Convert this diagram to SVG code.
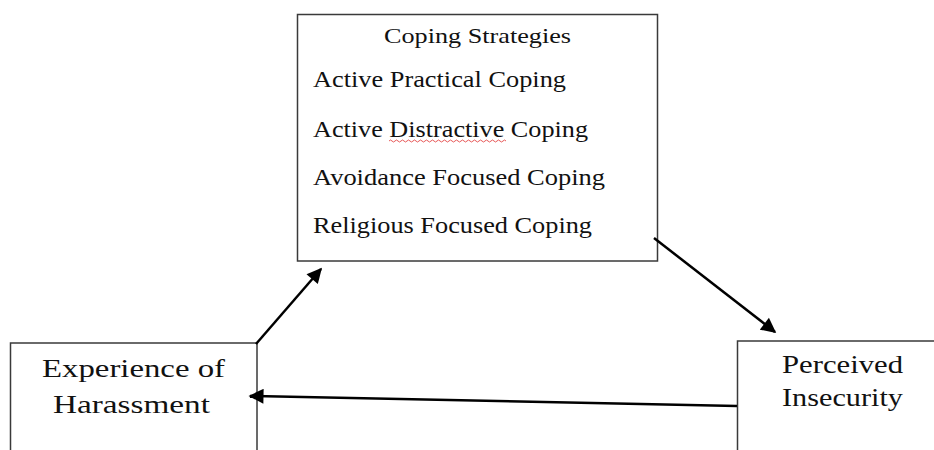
<svg xmlns="http://www.w3.org/2000/svg" width="934" height="450" viewBox="0 0 934 450">
<style>
.box{fill:#fff;stroke:#3a3a3a;stroke-width:1.5}
.t{font-family:"Liberation Serif","Times New Roman",serif;fill:#111}
.conn{stroke:#000;stroke-width:2.5;fill:none;marker-end:url(#ah)}
</style>
<defs>
<marker id="ah" viewBox="0 0 10 10" refX="9" refY="5" markerWidth="7" markerHeight="6" orient="auto" markerUnits="strokeWidth">
<path d="M0,0 L10,5 L0,10 z" fill="#000"/>
</marker>
</defs>
<rect width="934" height="450" fill="#fff"/>
<g id="coping">
<rect class="box" x="297.5" y="14.5" width="360" height="246.5"/>
<text class="t" x="384" y="43" font-size="22" textLength="187" lengthAdjust="spacingAndGlyphs">Coping Strategies</text>
<text class="t" x="313" y="87" font-size="23" textLength="253" lengthAdjust="spacingAndGlyphs">Active Practical Coping</text>
<text class="t" x="313" y="137" font-size="23" textLength="275" lengthAdjust="spacingAndGlyphs">Active Distractive Coping</text>
<path d="M389,141 q1.5,-2 3,0 t3,0 t3,0 t3,0 t3,0 t3,0 t3,0 t3,0 t3,0 t3,0 t3,0 t3,0 t3,0 t3,0 t3,0 t3,0 t3,0 t3,0 t3,0 t3,0 t3,0 t3,0 t3,0 t3,0 t3,0 t3,0 t3,0 t3,0 t3,0 t3,0 t3,0 t3,0 t3,0 t3,0 t3,0 t3,0 t3,0 t3,0 t3,0" fill="none" stroke="#e03030" stroke-width="0.8"/>
<text class="t" x="313" y="185" font-size="23" textLength="292" lengthAdjust="spacingAndGlyphs">Avoidance Focused Coping</text>
<text class="t" x="313" y="233" font-size="23" textLength="279" lengthAdjust="spacingAndGlyphs">Religious Focused Coping</text>
</g>
<g id="harassment">
<rect class="box" x="10.5" y="343" width="246.5" height="120"/>
<text class="t" x="42" y="377" font-size="26" textLength="183" lengthAdjust="spacingAndGlyphs">Experience of</text>
<text class="t" x="53" y="413" font-size="26" textLength="157" lengthAdjust="spacingAndGlyphs">Harassment</text>
</g>
<g id="insecurity">
<rect class="box" x="737.5" y="341" width="210" height="120"/>
<text class="t" x="782" y="373" font-size="25" textLength="121" lengthAdjust="spacingAndGlyphs">Perceived</text>
<text class="t" x="782" y="406" font-size="25" textLength="121" lengthAdjust="spacingAndGlyphs">Insecurity</text>
</g>
<g id="connectors">
<line class="conn" x1="256" y1="344" x2="321" y2="269"/>
<line class="conn" x1="654" y1="238" x2="775" y2="332"/>
<line class="conn" x1="737" y1="406" x2="250" y2="396"/>
</g>
</svg>
